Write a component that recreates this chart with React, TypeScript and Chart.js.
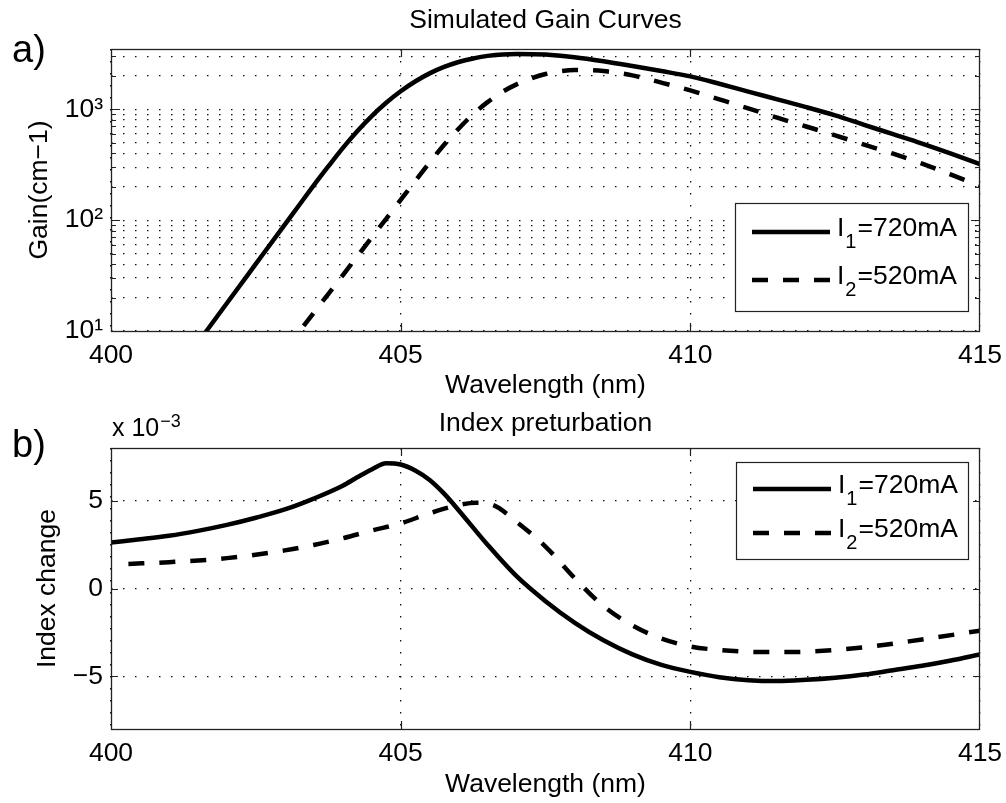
import React, { useEffect, useRef } from 'react';
import { Chart, registerables } from 'chart.js';

Chart.register(...registerables);

const FONT = '"Liberation Sans", Arial, Helvetica, sans-serif';
const FS = 26.5;

// ---------- Panel a) Simulated gain curves, Gain (cm^-1) ----------
const gainWavelengthI1 = [401.5, 402, 402.5, 403, 403.25, 403.5, 403.75, 404, 404.25, 404.5, 404.75, 405, 405.25, 405.5, 405.75, 406, 406.25, 406.5, 407, 407.5, 408, 408.5, 409, 409.5, 410, 410.5, 411, 411.5, 412, 412.5, 413, 413.5, 414, 414.5, 415];
const gainI1 = [7.85, 17.8, 40.3, 91.2, 137, 206, 305, 447, 634, 869, 1146, 1455, 1782, 2109, 2410, 2673, 2877, 3034, 3160, 3126, 2950, 2710, 2455, 2213, 1980, 1700, 1445, 1230, 1047, 881, 724, 596, 490, 398, 320];
const gainWavelengthI2 = [403, 403.5, 404, 404.5, 405, 405.25, 405.5, 405.75, 406, 406.25, 406.5, 406.75, 407, 407.25, 407.5, 407.75, 408, 408.5, 409, 409.5, 410, 410.5, 411, 411.5, 412, 412.5, 413, 413.5, 414, 414.5, 415];
const gainI2 = [6.65, 14.6, 31.8, 69.7, 152, 225, 331, 479, 668, 902, 1161, 1429, 1679, 1897, 2080, 2203, 2265, 2213, 2023, 1740, 1480, 1230, 1020, 840, 700, 582, 480, 398, 324, 257, 204];

// ---------- Panel b) Index perturbation (x 10^-3) ----------
const indexWavelengthI1 = [400, 400.5, 401, 401.5, 402, 402.5, 403, 403.5, 404, 404.25, 404.5, 404.75, 405, 405.25, 405.5, 405.75, 406, 406.5, 407, 407.5, 408, 408.5, 409, 409.5, 410, 410.5, 411, 411.5, 412, 412.5, 413, 413.5, 414, 414.5, 415];
const indexI1 = [2.62, 2.8, 3.0, 3.28, 3.62, 4.03, 4.5, 5.12, 5.85, 6.33, 6.78, 7.13, 7.06, 6.72, 6.18, 5.4, 4.46, 2.49, 0.7, -0.72, -1.94, -2.95, -3.75, -4.35, -4.75, -5.05, -5.22, -5.27, -5.2, -5.08, -4.9, -4.65, -4.4, -4.1, -3.75];
const indexWavelengthI2 = [400.3, 401, 402, 403, 403.5, 404, 404.5, 405, 405.5, 406, 406.3, 406.6, 407, 407.5, 408, 408.5, 409, 409.5, 410, 410.5, 411, 411.5, 412, 413, 414, 415];
const indexI2 = [1.4, 1.5, 1.73, 2.17, 2.48, 2.86, 3.3, 3.71, 4.28, 4.75, 4.88, 4.75, 3.8, 2.39, 0.6, -1.0, -2.1, -2.85, -3.3, -3.5, -3.6, -3.62, -3.6, -3.35, -2.9, -2.4];

// ---------- Labels / ticks ----------
const seriesLabels = ['I1=720mA', 'I2=520mA'];
const wavelengthTicks = [400, 405, 410, 415];
const gainTicks = [10, 20, 30, 40, 50, 60, 70, 80, 90, 100, 200, 300, 400, 500, 600, 700, 800, 900, 1000, 2000, 3000];
const gainLabelledTicks = [10, 100, 1000];
const indexTicks = [-5, 0, 5];
const panelTitles = ['Simulated Gain Curves', 'Index preturbation'];
const panelLetters = ['a)', 'b)'];
const xTitle = 'Wavelength (nm)';
const yTitles = ['Gain(cm\u22121)', 'Index change'];

const SUP: Record<string, string> = { '0': '\u2070', '1': '\u00b9', '2': '\u00b2', '3': '\u00b3' };

const toPoints = (xs: number[], ys: number[]) => xs.map((x, i) => ({ x, y: ys[i] }));

const DASH = [16, 15];
const GRID_DASH = [1.5, 10.5];

function lineDataset(label: string, data: any[], dashed: boolean) {
  return {
    label,
    data,
    borderColor: '#000',
    borderWidth: 4.5,
    borderDash: dashed ? DASH : [],
    pointRadius: 0,
    fill: false,
    cubicInterpolationMode: 'monotone' as const,
    clip: 0,
  };
}

type DecorCfg = {
  id: string;
  title: string;
  titleBaseline: number;
  letter: string;
  letterBaseline: number;
  multiplier?: { x: number; baseline: number };
  legend: { l: number; r: number; t: number; b: number; rows: number[] };
  majorTickLen: number;
  majorValues: number[];
};

function decorPlugin(cfg: DecorCfg) {
  return {
    id: cfg.id,
    afterDraw(chart: any) {
      const ctx = chart.ctx as CanvasRenderingContext2D;
      const a = chart.chartArea;
      const xs = chart.scales.x;
      const ys = chart.scales.y;
      ctx.save();

      // Legend box
      const L = cfg.legend;
      const bl = a.right - L.l, br = a.right - L.r, bt = a.top + L.t, bb = a.top + L.b;
      ctx.fillStyle = '#fff';
      ctx.fillRect(bl, bt, br - bl, bb - bt);
      ctx.strokeStyle = '#222';
      ctx.lineWidth = 1.2;
      ctx.strokeRect(Math.round(bl) + 0.5, Math.round(bt) + 0.5, br - bl, bb - bt);
      chart.data.datasets.forEach((ds: any, i: number) => {
        const y = a.top + L.rows[i];
        ctx.beginPath();
        ctx.setLineDash(ds.borderDash || []);
        ctx.lineWidth = 4.5;
        ctx.strokeStyle = '#000';
        ctx.moveTo(bl + 17, y);
        ctx.lineTo(bl + 95, y);
        ctx.stroke();
        ctx.setLineDash([]);
        const m = /^([A-Za-z]+)(\d)(.*)$/.exec(ds.label);
        let tx = bl + 102;
        const base = y + 4;
        ctx.fillStyle = '#000';
        ctx.textBaseline = 'alphabetic';
        ctx.textAlign = 'left';
        if (m) {
          ctx.font = `${FS}px ${FONT}`;
          ctx.fillText(m[1], tx, base);
          tx += ctx.measureText(m[1]).width + 1;
          ctx.font = `20px ${FONT}`;
          ctx.fillText(m[2], tx, base + 12);
          tx += ctx.measureText(m[2]).width + 1;
          ctx.font = `${FS}px ${FONT}`;
          ctx.fillText(m[3], tx, base);
        } else {
          ctx.font = `${FS}px ${FONT}`;
          ctx.fillText(ds.label, tx, base);
        }
      });

      // Axes box
      ctx.strokeStyle = '#222';
      ctx.lineWidth = 1.3;
      ctx.strokeRect(a.left + 0.5, a.top + 0.5, a.right - a.left - 1, a.bottom - a.top);

      // Inward tick marks
      ctx.lineWidth = 1.2;
      ctx.beginPath();
      ys.ticks.forEach((t: any) => {
        const py = Math.round(ys.getPixelForValue(t.value)) + 0.5;
        if (py <= a.top + 1 || py >= a.bottom - 1) return;
        const len = cfg.majorValues.includes(t.value) ? cfg.majorTickLen : 5;
        ctx.moveTo(a.left, py); ctx.lineTo(a.left + len, py);
        ctx.moveTo(a.right, py); ctx.lineTo(a.right - len, py);
      });
      xs.ticks.forEach((t: any) => {
        const px = Math.round(xs.getPixelForValue(t.value)) + 0.5;
        if (px <= a.left + 1 || px >= a.right - 1) return;
        ctx.moveTo(px, a.bottom); ctx.lineTo(px, a.bottom - 8);
        ctx.moveTo(px, a.top); ctx.lineTo(px, a.top + 8);
      });
      ctx.stroke();

      // Texts
      ctx.fillStyle = '#000';
      ctx.textBaseline = 'alphabetic';
      ctx.textAlign = 'center';
      ctx.font = `${FS}px ${FONT}`;
      ctx.fillText(cfg.title, (a.left + a.right) / 2, cfg.titleBaseline);
      ctx.textAlign = 'left';
      ctx.font = `38px ${FONT}`;
      ctx.fillText(cfg.letter, 12, cfg.letterBaseline);
      if (cfg.multiplier) {
        ctx.font = `25px ${FONT}`;
        const s = 'x 10';
        ctx.fillText(s, cfg.multiplier.x, cfg.multiplier.baseline);
        const w = ctx.measureText(s).width;
        ctx.font = `18px ${FONT}`;
        ctx.fillText('\u22123', cfg.multiplier.x + w + 1, cfg.multiplier.baseline - 9);
      }
      ctx.restore();
    },
  };
}

const tickFont = { family: FONT, size: FS };

function xScale(bottomHeight: number, titlePadBottom: number) {
  return {
    type: 'linear' as const,
    min: 400,
    max: 415,
    afterBuildTicks: (s: any) => { s.ticks = wavelengthTicks.map((v) => ({ value: v })); },
    afterFit: (s: any) => { s.height = bottomHeight; s.paddingLeft = 0; s.paddingRight = 0; },
    ticks: { font: tickFont, color: '#000', padding: 9, maxRotation: 0, autoSkip: false },
    grid: { color: '#111', lineWidth: 1.3, drawTicks: false },
    border: { display: false, dash: GRID_DASH },
    title: { display: true, text: xTitle, font: tickFont, color: '#000', padding: { top: 0, bottom: titlePadBottom } },
  };
}

function yAfterFit(s: any) {
  s.width = 111;
  s.paddingTop = 0;
  s.paddingBottom = 0;
}

function GainChart() {
  const ref = useRef<HTMLCanvasElement>(null);
  useEffect(() => {
    const chart = new Chart(ref.current as HTMLCanvasElement, {
      type: 'line',
      data: {
        datasets: [
          lineDataset(seriesLabels[0], toPoints(gainWavelengthI1, gainI1), false),
          lineDataset(seriesLabels[1], toPoints(gainWavelengthI2, gainI2), true),
        ] as any,
      },
      options: {
        responsive: false,
        animation: false,
        events: [],
        layout: { padding: { top: 49, right: 26, left: 0, bottom: 0 } },
        plugins: { legend: { display: false }, tooltip: { enabled: false }, title: { display: false } },
        scales: {
          x: xScale(71, 0),
          y: {
            type: 'logarithmic',
            min: 10,
            max: 3500,
            afterBuildTicks: (s: any) => { s.ticks = gainTicks.map((v) => ({ value: v, major: gainLabelledTicks.includes(v) })); },
            afterFit: yAfterFit,
            ticks: {
              font: tickFont,
              color: '#000',
              padding: 8,
              autoSkip: false,
              callback: (v: any) => {
                const n = Number(v);
                if (!gainLabelledTicks.includes(n)) return '';
                return '10' + SUP[String(Math.round(Math.log10(n)))];
              },
            },
            grid: { color: '#111', lineWidth: 1.3, drawTicks: false },
            border: { display: false, dash: GRID_DASH },
            title: { display: true, text: yTitles[0], font: tickFont, color: '#000', padding: { top: 24, bottom: 0 } },
          },
        },
      } as any,
      plugins: [decorPlugin({
        id: 'decorA', title: panelTitles[0], titleBaseline: 28, letter: panelLetters[0], letterBaseline: 62,
        legend: { l: 245, r: 12, t: 154, b: 262, rows: [183, 231] },
        majorTickLen: 9, majorValues: gainLabelledTicks,
      })],
    });
    return () => chart.destroy();
  }, []);
  return <canvas ref={ref} width={1006} height={402} style={{ position: 'absolute', left: 0, top: 0, width: 1006, height: 402 }} />;
}

function IndexChart() {
  const ref = useRef<HTMLCanvasElement>(null);
  useEffect(() => {
    const chart = new Chart(ref.current as HTMLCanvasElement, {
      type: 'line',
      data: {
        datasets: [
          lineDataset(seriesLabels[0], toPoints(indexWavelengthI1, indexI1), false),
          lineDataset(seriesLabels[1], toPoints(indexWavelengthI2, indexI2), true),
        ] as any,
      },
      options: {
        responsive: false,
        animation: false,
        events: [],
        layout: { padding: { top: 46, right: 26, left: 0, bottom: 0 } },
        plugins: { legend: { display: false }, tooltip: { enabled: false }, title: { display: false } },
        scales: {
          x: xScale(74, 2),
          y: {
            type: 'linear',
            min: -8,
            max: 8,
            afterBuildTicks: (s: any) => { s.ticks = indexTicks.map((v) => ({ value: v })); },
            afterFit: yAfterFit,
            ticks: {
              font: tickFont,
              color: '#000',
              padding: 8,
              autoSkip: false,
              callback: (v: any) => {
                const n = Number(v);
                return n < 0 ? '\u2212' + Math.abs(n) : String(n);
              },
            },
            grid: { color: '#111', lineWidth: 1.3, drawTicks: false },
            border: { display: false, dash: GRID_DASH },
            title: { display: true, text: yTitles[1], font: tickFont, color: '#000', padding: { top: 32, bottom: 0 } },
          },
        },
      } as any,
      plugins: [decorPlugin({
        id: 'decorB', title: panelTitles[1], titleBaseline: 29, letter: panelLetters[1], letterBaseline: 55,
        multiplier: { x: 112, baseline: 34 },
        legend: { l: 244, r: 12, t: 14, b: 111, rows: [41, 85] },
        majorTickLen: 7, majorValues: indexTicks,
      })],
    });
    return () => chart.destroy();
  }, []);
  return <canvas ref={ref} width={1006} height={401} style={{ position: 'absolute', left: 0, top: 402, width: 1006, height: 401 }} />;
}

export default function App() {
  return (
    <div style={{ position: 'absolute', left: 0, top: 0, width: 1006, height: 803, background: '#fff', overflow: 'hidden' }}>
      <GainChart />
      <IndexChart />
    </div>
  );
}
